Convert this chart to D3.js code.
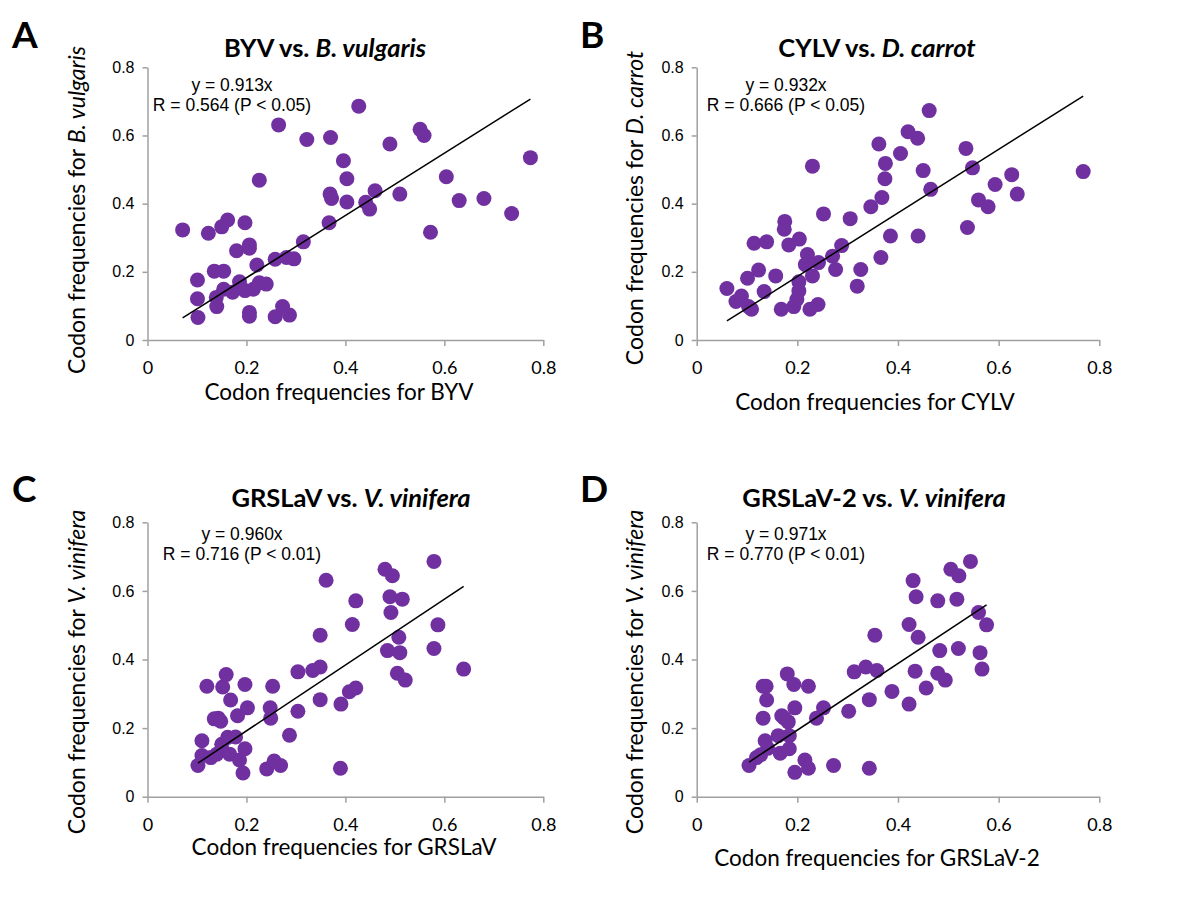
<!DOCTYPE html>
<html>
<head>
<meta charset="utf-8">
<script src="https://cdn.jsdelivr.net/npm/d3@7"></script>
<style>
  body { margin: 0; background: #fff; }
  svg { display: block; }
</style>
</head>
<body>
<svg id="chart" width="1200" height="900"></svg>
<script>
// codon frequency pairs [virus, host]
const byvPoints = [[0.071,0.323],[0.101,0.176],[0.101,0.121],[0.102,0.066],[0.123,0.313],[0.135,0.202],[0.154,0.202],[0.139,0.125],[0.140,0.098],[0.150,0.332],[0.162,0.352],[0.154,0.149],[0.172,0.140],[0.180,0.262],[0.186,0.171],[0.197,0.344],[0.206,0.279],[0.206,0.269],[0.197,0.145],[0.206,0.081],[0.206,0.070],[0.221,0.220],[0.226,0.469],[0.214,0.149],[0.226,0.168],[0.240,0.164],[0.258,0.237],[0.258,0.068],[0.265,0.631],[0.273,0.098],[0.287,0.073],[0.281,0.242],[0.296,0.238],[0.315,0.288],[0.322,0.588],[0.370,0.594],[0.367,0.344],[0.369,0.428],[0.372,0.415],[0.396,0.526],[0.403,0.473],[0.403,0.405],[0.427,0.686],[0.441,0.404],[0.460,0.438],[0.449,0.384],[0.490,0.575],[0.510,0.428],[0.551,0.618],[0.559,0.600],[0.572,0.316],[0.604,0.479],[0.630,0.409],[0.680,0.415],[0.736,0.371],[0.774,0.535]];

const cylvPoints = [[0.060,0.151],[0.078,0.113],[0.089,0.129],[0.101,0.181],[0.103,0.098],[0.109,0.090],[0.114,0.284],[0.123,0.205],[0.134,0.142],[0.139,0.288],[0.157,0.188],[0.168,0.090],[0.175,0.348],[0.174,0.325],[0.183,0.279],[0.193,0.098],[0.199,0.119],[0.203,0.144],[0.203,0.171],[0.204,0.296],[0.220,0.251],[0.216,0.221],[0.225,0.090],[0.230,0.510],[0.230,0.188],[0.242,0.227],[0.241,0.104],[0.252,0.370],[0.270,0.246],[0.276,0.207],[0.288,0.277],[0.305,0.356],[0.319,0.158],[0.326,0.207],[0.346,0.391],[0.362,0.575],[0.368,0.418],[0.366,0.242],[0.374,0.473],[0.375,0.518],[0.385,0.305],[0.405,0.547],[0.420,0.611],[0.439,0.592],[0.462,0.673],[0.450,0.497],[0.465,0.442],[0.440,0.305],[0.535,0.562],[0.548,0.505],[0.538,0.330],[0.560,0.411],[0.579,0.391],[0.593,0.456],[0.626,0.485],[0.637,0.428],[0.768,0.494]];

const grslavPoints = [[0.102,0.091],[0.110,0.163],[0.110,0.120],[0.120,0.322],[0.128,0.114],[0.135,0.227],[0.143,0.229],[0.148,0.220],[0.140,0.124],[0.150,0.153],[0.152,0.320],[0.159,0.356],[0.162,0.173],[0.166,0.124],[0.168,0.282],[0.178,0.174],[0.182,0.236],[0.186,0.107],[0.193,0.069],[0.197,0.140],[0.197,0.327],[0.202,0.259],[0.241,0.081],[0.249,0.229],[0.248,0.259],[0.253,0.322],[0.256,0.104],[0.269,0.091],[0.287,0.179],[0.304,0.249],[0.304,0.364],[0.334,0.368],[0.349,0.378],[0.349,0.471],[0.349,0.283],[0.361,0.631],[0.390,0.083],[0.391,0.270],[0.408,0.306],[0.414,0.502],[0.421,0.317],[0.421,0.571],[0.480,0.663],[0.495,0.644],[0.490,0.583],[0.515,0.576],[0.492,0.537],[0.508,0.465],[0.485,0.426],[0.510,0.420],[0.505,0.360],[0.521,0.340],[0.579,0.686],[0.587,0.501],[0.579,0.432],[0.639,0.372]];

const grslav2Points = [[0.104,0.091],[0.119,0.114],[0.127,0.122],[0.132,0.322],[0.138,0.322],[0.139,0.282],[0.132,0.229],[0.136,0.163],[0.141,0.141],[0.162,0.178],[0.166,0.127],[0.169,0.236],[0.174,0.229],[0.182,0.218],[0.180,0.358],[0.184,0.178],[0.184,0.140],[0.193,0.327],[0.195,0.259],[0.195,0.071],[0.215,0.107],[0.222,0.083],[0.222,0.322],[0.238,0.229],[0.252,0.259],[0.272,0.091],[0.302,0.249],[0.313,0.364],[0.336,0.378],[0.343,0.283],[0.343,0.083],[0.354,0.471],[0.358,0.368],[0.388,0.307],[0.422,0.270],[0.422,0.502],[0.430,0.630],[0.436,0.583],[0.440,0.465],[0.434,0.366],[0.456,0.317],[0.479,0.571],[0.483,0.426],[0.479,0.360],[0.494,0.340],[0.505,0.663],[0.521,0.644],[0.517,0.576],[0.520,0.432],[0.544,0.686],[0.560,0.537],[0.576,0.501],[0.563,0.420],[0.567,0.372]];

const slopes = [0.913, 0.932, 0.960, 0.971];
const rTexts = ["R = 0.564 (P < 0.05)", "R = 0.666 (P < 0.05)", "R = 0.716 (P < 0.01)", "R = 0.770 (P < 0.01)"];
const letters = ["A", "B", "C", "D"];
const viruses = ["BYV", "CYLV", "GRSLaV", "GRSLaV-2"];
const hosts = ["B. vulgaris", "D. carrot", "V. vinifera", "V. vinifera"];
const tickValues = [0, 0.2, 0.4, 0.6, 0.8];

// panel layout (pixel boxes of the plot areas and text anchors)
const panels = [
  { pts: byvPoints, left: 147.5, right: 543.3, top: 67.3, bottom: 340,
    letterX: 12, letterY: 48, titleX: 325, titleY: 57, eqX: 232, eqY: 91,
    xlabX: 339, xlabY: 400, ylabX: 85, ylabY: 210 },
  { pts: cylvPoints, left: 696.7, right: 1099.3, top: 67.3, bottom: 340,
    letterX: 580, letterY: 48, titleX: 877, titleY: 57, eqX: 786, eqY: 91,
    xlabX: 875, xlabY: 410, ylabX: 643, ylabY: 208 },
  { pts: grslavPoints, left: 147.5, right: 543.3, top: 522.3, bottom: 796.7,
    letterX: 12, letterY: 502, titleX: 351, titleY: 507, eqX: 242, eqY: 540,
    xlabX: 344, xlabY: 855, ylabX: 85, ylabY: 672 },
  { pts: grslav2Points, left: 696.7, right: 1099.3, top: 522.3, bottom: 796.7,
    letterX: 580, letterY: 502, titleX: 874, titleY: 507, eqX: 786, eqY: 540,
    xlabX: 877, xlabY: 866, ylabX: 643, ylabY: 672 }
];

const purple = "#7030a0";
const axisGray = "#a0a0a0";
const calibri = "Lato, 'Open Sans', sans-serif";
const arial = "'Liberation Sans', Arial, sans-serif";

const svg = d3.select("#chart");

panels.forEach((p, i) => {
  const g = svg.append("g");

  const x = d3.scaleLinear().domain([0, 0.8]).range([p.left, p.right]);
  const y = d3.scaleLinear().domain([0, 0.8]).range([p.bottom, p.top]);

  // x axis
  const xAxis = g.append("g")
    .attr("transform", `translate(0, ${p.bottom})`)
    .call(d3.axisBottom(x).tickValues(tickValues).tickSize(6).tickSizeOuter(0)
      .tickFormat(d => d === 0 ? "0" : d3.format(".1f")(d)));
  xAxis.select(".domain").attr("stroke", axisGray).attr("stroke-width", 1.5);
  xAxis.selectAll(".tick line").attr("stroke", axisGray).attr("stroke-width", 1.5);
  xAxis.selectAll(".tick text")
    .attr("fill", "#000")
    .attr("dy", 0)
    .attr("y", 34)
    .style("font-family", calibri)
    .style("font-size", "18px");

  // y axis
  const yAxis = g.append("g")
    .attr("transform", `translate(${p.left}, 0)`)
    .call(d3.axisLeft(y).tickValues(tickValues).tickSize(5).tickSizeOuter(0)
      .tickFormat(d => d === 0 ? "0" : d3.format(".1f")(d)));
  yAxis.select(".domain").attr("stroke", axisGray).attr("stroke-width", 1.5);
  yAxis.selectAll(".tick line").attr("stroke", axisGray).attr("stroke-width", 1.5);
  yAxis.selectAll(".tick text")
    .attr("fill", "#000")
    .attr("x", -13)
    .style("font-family", arial)
    .style("font-size", "16px");
  g.selectAll(".domain").attr("fill", "none");

  // points
  g.selectAll("circle.pt")
    .data(p.pts)
    .enter()
    .append("circle")
    .attr("class", "pt")
    .attr("cx", d => x(d[0]))
    .attr("cy", d => y(d[1]))
    .attr("r", 7.5)
    .attr("fill", purple);

  // trend line through origin, over the data's x range
  const [x0, x1] = d3.extent(p.pts, d => d[0]);
  g.append("line")
    .attr("x1", x(x0)).attr("y1", y(slopes[i] * x0))
    .attr("x2", x(x1)).attr("y2", y(slopes[i] * x1))
    .attr("stroke", "#000")
    .attr("stroke-width", 1.5);

  // equation + R
  g.append("text")
    .attr("x", p.eqX).attr("y", p.eqY)
    .attr("text-anchor", "middle")
    .style("font-family", arial).style("font-size", "17.5px")
    .text(`y = ${slopes[i].toFixed(3)}x`);
  g.append("text")
    .attr("x", p.eqX).attr("y", p.eqY + 20)
    .attr("text-anchor", "middle")
    .style("font-family", arial).style("font-size", "17.5px")
    .text(rTexts[i]);

  // panel letter
  g.append("text")
    .attr("x", p.letterX).attr("y", p.letterY)
    .style("font-family", calibri).style("font-weight", "bold").style("font-size", "37px")
    .text(letters[i]);

  // title
  const title = g.append("text")
    .attr("x", p.titleX).attr("y", p.titleY)
    .attr("text-anchor", "middle")
    .style("font-family", calibri).style("font-weight", "bold").style("font-size", "25.5px");
  title.append("tspan").text(`${viruses[i]} vs. `);
  title.append("tspan").style("font-style", "italic").text(hosts[i]);

  // x label
  g.append("text")
    .attr("x", p.xlabX).attr("y", p.xlabY)
    .attr("text-anchor", "middle")
    .style("font-family", calibri).style("font-size", "22.5px")
    .text(`Codon frequencies for ${viruses[i]}`);

  // y label
  const ylab = g.append("text")
    .attr("transform", `translate(${p.ylabX}, ${p.ylabY}) rotate(-90)`)
    .attr("text-anchor", "middle")
    .style("font-family", calibri).style("font-size", "23px");
  ylab.append("tspan").text("Codon frequencies for ");
  ylab.append("tspan").style("font-style", "italic").text(hosts[i]);
});
</script>
</body>
</html>
